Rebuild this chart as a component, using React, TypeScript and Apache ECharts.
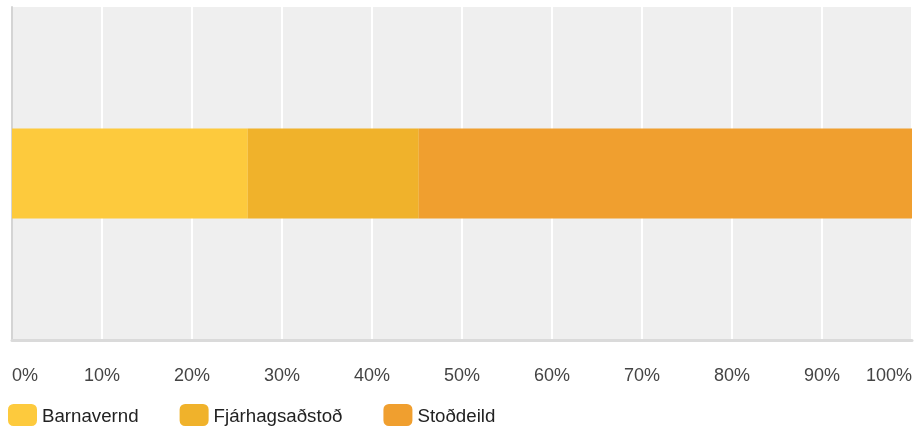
import React, { useEffect, useRef } from "react";
import * as echarts from "echarts";

const categories = ["Svör"];
const seriesNames = ["Barnavernd", "Fjárhagsaðstoð", "Stoðdeild"];
const seriesValues = [[26.2], [19.0], [54.8]];
const seriesColors = ["#fdca3d", "#f0b22b", "#f09f2f"];
const tickLabels = ["0%", "10%", "20%", "30%", "40%", "50%", "60%", "70%", "80%", "90%", "100%"];

export default function App() {
  const ref = useRef<HTMLDivElement>(null);
  useEffect(() => {
    if (!ref.current) return;
    const chart = echarts.init(ref.current, undefined, { renderer: "svg" });
    chart.setOption({
      animation: false,
      textStyle: { fontFamily: "Liberation Sans, Arial, sans-serif" },
      grid: {
        left: 12,
        right: 4,
        top: 7,
        bottom: 88,
        show: true,
        backgroundColor: "#efefef",
        borderWidth: 0,
      },
      legend: {
        left: 8,
        top: 404,
        padding: 0,
        itemWidth: 29,
        itemHeight: 22,
        itemGap: 41,
        icon: "roundRect",
        textStyle: { fontSize: 18.7, color: "#222" },
        data: seriesNames,
      },
      xAxis: {
        type: "value",
        min: 0,
        max: 100,
        interval: 10,
        axisLine: { show: true, lineStyle: { color: "#dadada", width: 3 } },
        axisTick: { show: false },
        splitLine: { show: true, lineStyle: { color: "#ffffff", width: 2 } },
        axisLabel: {
          fontSize: 18,
          color: "#444",
          margin: 26,
          alignMinLabel: "left",
          alignMaxLabel: "right",
          formatter: (v: number) => tickLabels[Math.round(v / 10)] ?? "",
        },
      },
      yAxis: {
        type: "category",
        data: categories,
        axisLine: { show: true, lineStyle: { color: "#d4d4d4", width: 2 } },
        axisTick: { show: false },
        axisLabel: { show: false },
        splitLine: { show: false },
      },
      series: seriesNames.map((name, i) => ({
        name,
        type: "bar",
        stack: "total",
        barWidth: 90,
        data: seriesValues[i],
        itemStyle: { color: seriesColors[i] },
      })),
    });
    return () => chart.dispose();
  }, []);
  return (
    <div
      ref={ref}
      style={{ position: "fixed", left: 0, top: 0, width: 916, height: 428 }}
    />
  );
}
